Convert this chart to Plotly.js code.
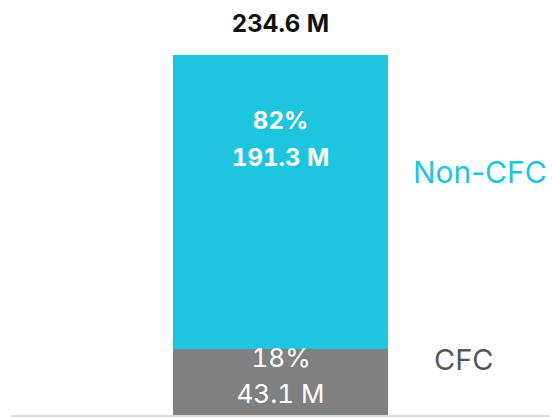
<!DOCTYPE html>
<html><head><meta charset="utf-8">
<script src="https://cdn.plot.ly/plotly-3.0.1.min.js"></script>
<style>html,body{margin:0;padding:0;background:#fff}#chart{width:552px;height:417px}
#chart text{font-feature-settings:"tnum" 1;}
#chart g.annotation[data-index="5"] text,#chart g.annotation[data-index="6"] text{font-feature-settings:normal;}</style>
</head><body><div id="chart"></div>
<script>
const categories = ['Total'];
const seriesNames = ['CFC', 'Non-CFC'];
const cfcValues = [43.1];
const nonCfcValues = [191.3];
const cfcPct = ['18%'];
const nonCfcPct = ['82%'];
const totalLabels = ['234.6 M'];

const GRAY = '#808080', CYAN = '#1DC5DE';
const FONT = 'Inter, "Liberation Sans", sans-serif';

const traces = [
  {type:'bar', name:seriesNames[0], x:categories, y:cfcValues, marker:{color:GRAY}, width:0.4, hoverinfo:'skip'},
  {type:'bar', name:seriesNames[1], x:categories, y:nonCfcValues, marker:{color:CYAN}, width:0.4, hoverinfo:'skip'}
];

const ann = [];
categories.forEach((c, i) => {
  const total = cfcValues[i] + nonCfcValues[i];
  ann.push({x:i, y:total, xref:'x', yref:'y', text:'<b>'+totalLabels[i]+'</b>', showarrow:false, yshift:32, font:{family:FONT, size:24, color:'#111'}});
  ann.push({x:i, y:total, xref:'x', yref:'y', text:'<b>'+nonCfcPct[i]+'</b>', showarrow:false, yshift:-65, font:{family:FONT, size:24, color:'#fff'}});
  ann.push({x:i, y:total, xref:'x', yref:'y', text:'<b>'+nonCfcValues[i].toFixed(1)+' M</b>', showarrow:false, yshift:-102, font:{family:FONT, size:24, color:'#fff'}});
  ann.push({x:i, y:cfcValues[i]/2, xref:'x', yref:'y', text:cfcPct[i], showarrow:false, yshift:24, font:{family:FONT, size:26, color:'#fff'}});
  ann.push({x:i, y:cfcValues[i]/2, xref:'x', yref:'y', text:cfcValues[i].toFixed(1)+' M', showarrow:false, yshift:-12, font:{family:FONT, size:26, color:'#fff'}});
  ann.push({x:i+0.2, y:total, xref:'x', yref:'y', text:seriesNames[1], showarrow:false, xanchor:'left', xshift:23, yshift:-117, font:{family:FONT, size:30, color:CYAN}});
  ann.push({x:i+0.2, y:cfcValues[i], xref:'x', yref:'y', text:seriesNames[0], showarrow:false, xanchor:'left', xshift:44, yshift:-11, font:{family:FONT, size:29, color:'#555'}});
});

const layout = {
  width:552, height:417,
  margin:{l:11, r:2, t:55, b:2},
  paper_bgcolor:'#fff', plot_bgcolor:'#fff',
  barmode:'stack', showlegend:false,
  xaxis:{type:'category', range:[-0.5,0.5], showticklabels:false, ticks:'', showgrid:false, zeroline:false, showline:true, linecolor:'#dcdcdc', linewidth:2, fixedrange:true},
  yaxis:{range:[0,234.6], visible:false, showgrid:false, zeroline:false, fixedrange:true},
  annotations:ann
};
Plotly.newPlot('chart', traces, layout, {displayModeBar:false, staticPlot:true});
</script></body></html>
